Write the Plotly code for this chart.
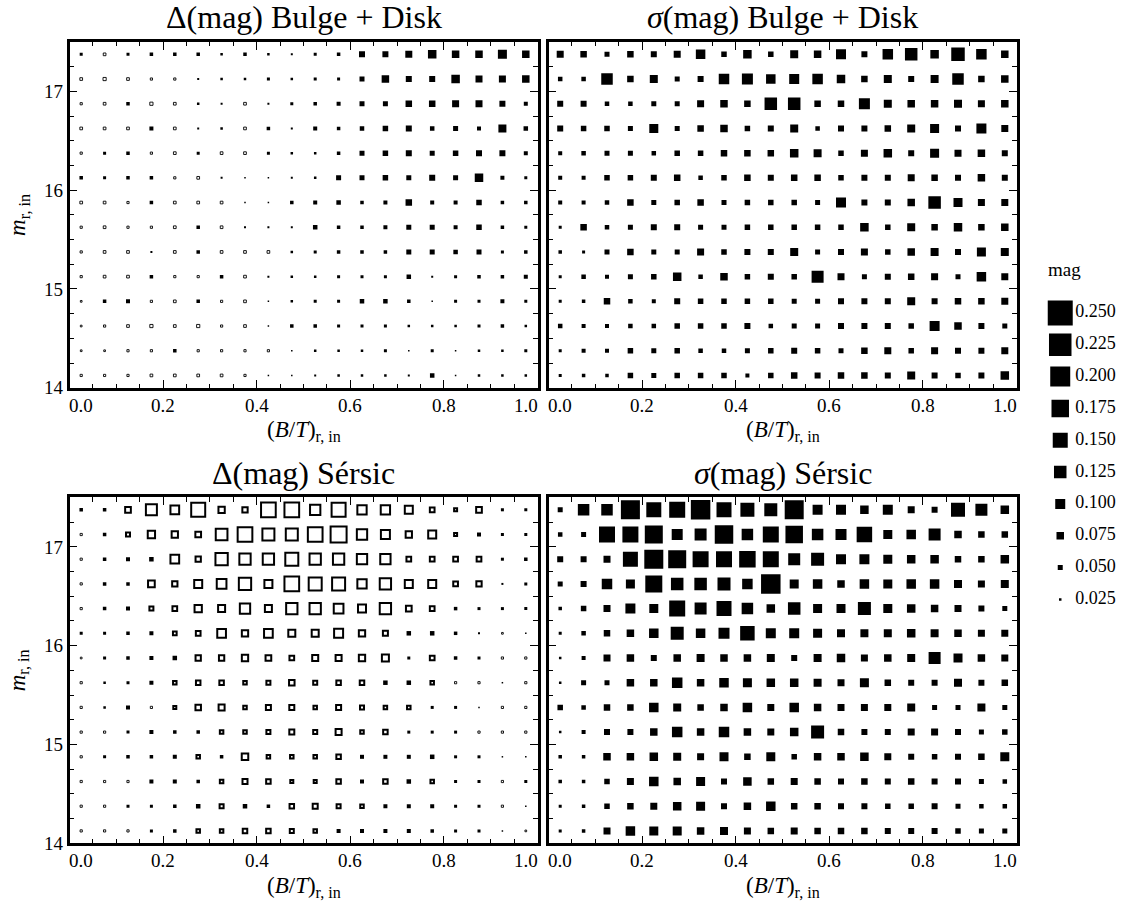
import plotly.graph_objects as go

# ---------------- data ----------------
bt_centers = [0.025, 0.075, 0.125, 0.175, 0.225, 0.275, 0.325, 0.375, 0.425, 0.475,
              0.525, 0.575, 0.625, 0.675, 0.725, 0.775, 0.825, 0.875, 0.925, 0.975]
# rows listed from top (bright end of the grid) to bottom
mag_centers = [17.375, 17.125, 16.875, 16.625, 16.375, 16.125, 15.875,
               15.625, 15.375, 15.125, 14.875, 14.625, 14.375, 14.125]

xtick_vals = [0.0, 0.2, 0.4, 0.6, 0.8, 1.0]
xtick_text = ["0.0", "0.2", "0.4", "0.6", "0.8", "1.0"]
ytick_vals = [14, 15, 16, 17]
legend_vals = [0.250, 0.225, 0.200, 0.175, 0.150, 0.125, 0.100, 0.075, 0.050, 0.025]

titles = ["\u0394(mag) Bulge + Disk", "<i>\u03c3</i>(mag) Bulge + Disk",
          "\u0394(mag) S\u00e9rsic", "<i>\u03c3</i>(mag) S\u00e9rsic"]
xtitle = "(<i>B</i>/<i>T</i>)<sub>r, in</sub>"
ytitle = "<i>m</i><sub>r, in</sub>"
legend_title = "mag"

delta_bd = [
    [0.03, -0.03, 0.03, 0.035, 0.035, 0.035, 0.025, 0.035, 0.025, 0.02, 0.03, 0.035, 0.06, 0.06, 0.07, 0.085, 0.075, 0.075, 0.09, 0.075],
    [-0.03, -0.035, -0.03, -0.025, -0.025, 0.02, 0.025, 0.025, 0.03, 0.025, 0.03, 0.03, 0.05, 0.075, 0.06, 0.06, 0.085, 0.07, 0.07, 0.075],
    [-0.025, -0.03, 0.035, -0.035, -0.03, 0.025, 0.02, -0.03, 0.02, 0.03, 0.035, 0.04, 0.05, 0.05, 0.065, 0.065, 0.07, 0.07, 0.06, 0.04],
    [-0.03, -0.03, -0.03, 0.04, -0.03, 0.02, 0.025, -0.03, 0.035, 0.02, 0.04, 0.035, 0.045, 0.055, 0.06, 0.045, 0.05, 0.04, 0.08, 0.045],
    [-0.025, 0.03, 0.035, -0.025, -0.03, 0.03, -0.03, -0.03, 0.03, 0.025, 0.025, 0.035, 0.05, 0.055, 0.06, 0.05, 0.055, 0.06, 0.06, 0.04],
    [0.035, 0.03, 0.035, 0.035, -0.025, -0.03, 0.02, 0.015, 0.015, 0.02, 0.025, 0.05, 0.05, 0.055, 0.05, 0.06, 0.05, 0.085, 0.04, 0.03],
    [-0.03, -0.03, -0.025, 0.035, -0.03, -0.03, -0.03, 0.015, 0.015, 0.035, 0.04, 0.045, 0.035, 0.04, 0.065, 0.04, 0.04, 0.055, 0.035, 0.035],
    [-0.025, -0.03, -0.025, -0.025, -0.03, 0.035, -0.03, 0.02, 0.02, 0.02, 0.045, 0.035, 0.035, 0.04, 0.05, 0.05, 0.04, 0.055, 0.035, 0.03],
    [-0.025, -0.03, -0.03, 0.02, -0.03, 0.035, -0.03, -0.03, -0.03, 0.025, 0.03, 0.035, 0.035, 0.035, 0.05, 0.05, 0.045, 0.05, 0.03, 0.035],
    [-0.025, -0.03, -0.03, 0.035, -0.025, -0.025, 0.035, -0.03, 0.02, 0.025, 0.025, 0.03, 0.03, 0.03, 0.045, 0.02, 0.03, 0.035, 0.035, 0.04],
    [-0.02, 0.035, 0.04, -0.025, -0.03, 0.035, -0.025, -0.03, 0.015, 0.025, 0.03, 0.03, 0.045, 0.045, 0.035, 0.015, 0.03, 0.03, 0.04, 0.03],
    [-0.02, -0.025, -0.03, -0.035, -0.03, -0.035, -0.025, -0.03, 0.015, 0.035, 0.035, 0.03, 0.03, 0.03, 0.025, 0.025, 0.025, 0.03, 0.035, 0.025],
    [-0.02, -0.02, -0.025, -0.025, 0.035, -0.025, -0.025, -0.025, -0.025, 0.015, 0.025, 0.025, 0.025, 0.03, 0.015, 0.03, 0.015, 0.025, 0.025, 0.03],
    [-0.025, -0.025, -0.025, -0.03, -0.03, -0.03, -0.03, -0.025, 0.015, 0.015, 0.02, 0.025, 0.025, 0.025, 0.02, 0.045, 0.015, 0.025, 0.025, 0.025],
]

sigma_bd = [
    [0.07, 0.065, 0.05, 0.065, 0.06, 0.07, 0.095, 0.055, 0.085, 0.055, 0.08, 0.075, 0.10, 0.06, 0.105, 0.125, 0.085, 0.135, 0.105, 0.075],
    [0.045, 0.045, 0.115, 0.065, 0.08, 0.05, 0.06, 0.105, 0.11, 0.095, 0.10, 0.105, 0.085, 0.065, 0.08, 0.06, 0.08, 0.115, 0.065, 0.075],
    [0.06, 0.06, 0.045, 0.045, 0.05, 0.05, 0.07, 0.075, 0.065, 0.125, 0.125, 0.065, 0.065, 0.11, 0.08, 0.075, 0.075, 0.08, 0.07, 0.075],
    [0.06, 0.055, 0.055, 0.05, 0.09, 0.05, 0.065, 0.075, 0.055, 0.06, 0.08, 0.045, 0.06, 0.06, 0.065, 0.08, 0.09, 0.06, 0.10, 0.07],
    [0.04, 0.045, 0.05, 0.05, 0.045, 0.055, 0.055, 0.065, 0.065, 0.065, 0.085, 0.08, 0.055, 0.07, 0.085, 0.06, 0.09, 0.07, 0.075, 0.06],
    [0.04, 0.04, 0.055, 0.055, 0.06, 0.065, 0.045, 0.055, 0.065, 0.06, 0.065, 0.065, 0.055, 0.06, 0.06, 0.07, 0.065, 0.06, 0.075, 0.06],
    [0.04, 0.04, 0.045, 0.065, 0.05, 0.055, 0.065, 0.05, 0.055, 0.055, 0.055, 0.05, 0.10, 0.06, 0.06, 0.075, 0.125, 0.09, 0.07, 0.07],
    [0.03, 0.065, 0.045, 0.05, 0.06, 0.06, 0.05, 0.05, 0.055, 0.055, 0.055, 0.055, 0.055, 0.085, 0.055, 0.08, 0.065, 0.085, 0.065, 0.075],
    [0.035, 0.03, 0.05, 0.065, 0.05, 0.05, 0.07, 0.055, 0.06, 0.06, 0.08, 0.05, 0.06, 0.07, 0.055, 0.075, 0.08, 0.06, 0.09, 0.08],
    [0.03, 0.045, 0.04, 0.05, 0.055, 0.085, 0.045, 0.075, 0.055, 0.06, 0.055, 0.12, 0.07, 0.05, 0.06, 0.065, 0.07, 0.05, 0.095, 0.07],
    [0.03, 0.035, 0.065, 0.045, 0.04, 0.06, 0.055, 0.055, 0.055, 0.055, 0.05, 0.05, 0.06, 0.06, 0.06, 0.08, 0.06, 0.065, 0.065, 0.07],
    [0.045, 0.04, 0.04, 0.045, 0.045, 0.055, 0.055, 0.055, 0.06, 0.045, 0.05, 0.05, 0.06, 0.06, 0.06, 0.055, 0.10, 0.075, 0.06, 0.05],
    [0.03, 0.04, 0.04, 0.055, 0.05, 0.055, 0.045, 0.045, 0.05, 0.055, 0.06, 0.055, 0.05, 0.065, 0.07, 0.055, 0.07, 0.06, 0.06, 0.07],
    [0.03, 0.035, 0.035, 0.055, 0.05, 0.055, 0.055, 0.055, 0.04, 0.055, 0.065, 0.06, 0.065, 0.065, 0.06, 0.08, 0.06, 0.055, 0.06, 0.085],
]

delta_sersic = [
    [0.035, 0.035, -0.077, -0.13, -0.107, -0.16, -0.083, -0.073, -0.167, -0.167, -0.123, -0.16, -0.113, -0.113, -0.10, -0.067, -0.05, -0.077, 0.03, 0.03],
    [-0.025, 0.035, -0.06, -0.093, -0.083, -0.077, -0.137, -0.167, -0.14, -0.14, -0.167, -0.18, -0.123, -0.11, -0.083, -0.10, -0.05, 0.04, 0.03, 0.03],
    [-0.025, 0.035, 0.04, 0.045, -0.107, -0.073, -0.143, -0.133, -0.133, -0.15, -0.133, -0.133, -0.123, -0.123, -0.067, -0.067, -0.067, -0.067, 0.03, 0.035],
    [-0.025, 0.035, 0.035, -0.087, -0.073, -0.10, -0.117, -0.143, -0.10, -0.167, -0.15, -0.15, -0.113, -0.133, -0.10, -0.10, -0.067, -0.073, 0.02, 0.03],
    [-0.025, 0.035, 0.04, -0.06, -0.067, -0.093, -0.09, -0.123, -0.09, -0.133, -0.133, -0.117, -0.10, -0.133, -0.077, -0.067, 0.035, 0.03, 0.03, 0.03],
    [0.03, 0.03, 0.035, 0.04, -0.057, -0.067, -0.107, -0.083, -0.107, -0.09, -0.09, -0.11, -0.083, -0.07, 0.045, 0.045, 0.035, 0.02, -0.02, 0.015],
    [-0.02, 0.03, 0.035, 0.04, 0.045, -0.073, -0.073, -0.083, -0.077, -0.067, -0.08, -0.08, -0.083, -0.09, 0.03, -0.067, 0.035, 0.03, -0.025, -0.025],
    [-0.025, 0.025, 0.03, 0.04, -0.055, -0.065, -0.065, -0.055, -0.06, -0.075, -0.06, -0.065, -0.065, 0.045, 0.045, -0.055, -0.025, -0.025, 0.015, -0.025],
    [-0.025, 0.025, 0.04, -0.025, -0.05, -0.075, -0.08, -0.055, -0.07, -0.07, -0.055, -0.07, -0.06, -0.055, -0.055, 0.03, 0.03, 0.015, -0.025, -0.025],
    [-0.025, -0.025, 0.03, 0.04, 0.035, 0.035, -0.055, -0.055, -0.06, -0.07, -0.06, -0.08, -0.055, -0.065, 0.03, 0.03, 0.03, -0.025, -0.025, -0.025],
    [-0.025, 0.03, 0.035, 0.035, 0.04, -0.055, 0.035, -0.085, -0.055, -0.055, -0.055, -0.065, 0.04, 0.04, 0.04, 0.045, 0.03, 0.03, 0.015, 0.015],
    [-0.025, -0.025, -0.025, 0.04, 0.04, 0.035, -0.055, -0.07, -0.065, -0.05, -0.05, -0.065, 0.04, -0.065, 0.045, -0.055, 0.03, 0.03, -0.025, 0.03],
    [-0.025, -0.025, 0.03, 0.03, 0.035, 0.045, -0.06, 0.045, 0.035, -0.065, -0.07, -0.06, -0.055, 0.04, 0.04, 0.04, 0.03, 0.03, -0.025, 0.015],
    [-0.025, -0.025, -0.025, 0.03, 0.035, -0.055, -0.055, -0.065, -0.065, -0.06, -0.055, 0.04, 0.04, 0.04, 0.04, 0.035, 0.03, 0.03, 0.015, -0.02],
]

sigma_sersic = [
    [0.05, 0.115, 0.115, 0.19, 0.15, 0.16, 0.195, 0.15, 0.14, 0.13, 0.19, 0.10, 0.10, 0.085, 0.10, 0.07, 0.06, 0.14, 0.12, 0.085],
    [0.045, 0.05, 0.16, 0.16, 0.18, 0.11, 0.12, 0.185, 0.115, 0.16, 0.175, 0.115, 0.11, 0.155, 0.09, 0.095, 0.12, 0.075, 0.065, 0.065],
    [0.06, 0.06, 0.07, 0.15, 0.19, 0.18, 0.16, 0.16, 0.165, 0.16, 0.12, 0.13, 0.10, 0.10, 0.09, 0.085, 0.085, 0.065, 0.065, 0.085],
    [0.05, 0.06, 0.105, 0.09, 0.17, 0.125, 0.125, 0.13, 0.105, 0.195, 0.09, 0.095, 0.075, 0.095, 0.09, 0.095, 0.095, 0.08, 0.07, 0.08],
    [0.035, 0.055, 0.07, 0.10, 0.09, 0.16, 0.12, 0.15, 0.115, 0.085, 0.125, 0.09, 0.09, 0.13, 0.09, 0.085, 0.075, 0.07, 0.06, 0.05],
    [0.03, 0.045, 0.065, 0.075, 0.095, 0.13, 0.095, 0.11, 0.145, 0.10, 0.10, 0.09, 0.08, 0.08, 0.08, 0.085, 0.08, 0.075, 0.07, 0.07],
    [0.025, 0.04, 0.07, 0.075, 0.06, 0.075, 0.08, 0.075, 0.075, 0.08, 0.06, 0.08, 0.085, 0.07, 0.075, 0.08, 0.12, 0.09, 0.075, 0.07],
    [0.025, 0.05, 0.05, 0.075, 0.075, 0.105, 0.075, 0.095, 0.09, 0.085, 0.085, 0.08, 0.07, 0.09, 0.065, 0.06, 0.06, 0.08, 0.06, 0.065],
    [0.055, 0.045, 0.065, 0.065, 0.095, 0.08, 0.065, 0.075, 0.095, 0.07, 0.095, 0.075, 0.07, 0.07, 0.07, 0.08, 0.05, 0.05, 0.08, 0.05],
    [0.025, 0.04, 0.06, 0.06, 0.075, 0.105, 0.075, 0.105, 0.075, 0.07, 0.085, 0.13, 0.065, 0.06, 0.06, 0.07, 0.07, 0.06, 0.05, 0.055],
    [0.035, 0.035, 0.075, 0.075, 0.085, 0.08, 0.07, 0.09, 0.065, 0.09, 0.055, 0.075, 0.075, 0.085, 0.07, 0.06, 0.055, 0.06, 0.065, 0.09],
    [0.035, 0.035, 0.055, 0.07, 0.095, 0.075, 0.09, 0.06, 0.085, 0.065, 0.07, 0.065, 0.06, 0.065, 0.06, 0.065, 0.06, 0.06, 0.05, 0.045],
    [0.03, 0.035, 0.055, 0.065, 0.07, 0.085, 0.09, 0.06, 0.075, 0.095, 0.065, 0.065, 0.06, 0.06, 0.055, 0.055, 0.06, 0.05, 0.045, 0.045],
    [0.03, 0.035, 0.07, 0.095, 0.09, 0.09, 0.075, 0.08, 0.07, 0.065, 0.07, 0.065, 0.065, 0.065, 0.06, 0.06, 0.06, 0.055, 0.05, 0.05],
]

# ---------------- layout helpers ----------------
W, H = 1128, 917
FONT = "'Liberation Serif', 'DejaVu Serif', 'Times New Roman', Times, serif"
SCALE = 100.0  # marker side in px per mag


def fx(p):
    return p / W


def fy(p):
    return 1 - p / H


panels = [
    dict(vals=delta_bd, xd=(69.5, 537.5), yd=(42.5, 392.5), ylab=True),
    dict(vals=sigma_bd, xd=(548.5, 1016.5), yd=(42.5, 392.5), ylab=False),
    dict(vals=delta_sersic, xd=(69.5, 537.5), yd=(503.5, 853.5), ylab=True),
    dict(vals=sigma_sersic, xd=(548.5, 1016.5), yd=(503.5, 853.5), ylab=False),
]

fig = go.Figure()
annotations = []
layout_axes = {}

for i, p in enumerate(panels):
    n = i + 1
    xs, ys, sizes, symbols, lws = [], [], [], [], []
    for r, row in enumerate(p["vals"]):
        for c, v in enumerate(row):
            xs.append(bt_centers[c])
            ys.append(mag_centers[r])
            if v >= 0:
                symbols.append("square")
                sizes.append(v * SCALE)
                lws.append(0)
            elif -v >= 0.045:
                symbols.append("square-open")
                sizes.append(-v * SCALE - 2.0)
                lws.append(2.0)
            else:
                symbols.append("square-open")
                sizes.append(max(-v * SCALE - 0.3, 1.5))
                lws.append(0.9)
    fig.add_trace(go.Scatter(
        x=xs, y=ys, mode="markers",
        marker=dict(symbol=symbols, size=sizes, color="black", opacity=1,
                    line=dict(color="black", width=lws)),
        xaxis="x%d" % n if n > 1 else "x",
        yaxis="y%d" % n if n > 1 else "y",
        showlegend=False, hoverinfo="skip"))

    xk = "xaxis%d" % n if n > 1 else "xaxis"
    yk = "yaxis%d" % n if n > 1 else "yaxis"
    layout_axes[xk] = dict(
        domain=[fx(p["xd"][0]), fx(p["xd"][1])],
        anchor="y%d" % n if n > 1 else "y",
        range=[0, 1], showgrid=False, zeroline=False,
        showline=True, linewidth=2.5, linecolor="black", mirror="ticks",
        ticks="inside", tick0=0, dtick=0.2, ticklen=8, tickwidth=1.3, tickcolor="black",
        minor=dict(ticks="inside", dtick=0.05, tick0=0, ticklen=4.5, tickwidth=1.1, tickcolor="black"),
        showticklabels=False)
    layout_axes[yk] = dict(
        domain=[fy(p["yd"][1]), fy(p["yd"][0])],
        anchor="x%d" % n if n > 1 else "x",
        range=[14, 17.5], showgrid=False, zeroline=False,
        showline=True, linewidth=2.5, linecolor="black", mirror="ticks",
        ticks="inside", tickmode="array", tickvals=ytick_vals,
        ticktext=[str(v) for v in ytick_vals],
        ticklen=8, tickwidth=1.3, tickcolor="black",
        minor=dict(ticks="inside", dtick=0.25, tick0=14, ticklen=4.5, tickwidth=1.1, tickcolor="black"),
        showticklabels=p["ylab"], tickfont=dict(family=FONT, size=19, color="black"))

    # x tick labels (edge labels nudged inside the frame)
    for v, t in zip(xtick_vals, xtick_text):
        annotations.append(dict(
            x=min(max(v, 0.025), 0.975), xref="x%d" % n if n > 1 else "x",
            y=fy(p["yd"][1] + 5), yref="paper", yanchor="top", xanchor="center",
            text=t, showarrow=False, font=dict(family=FONT, size=19, color="black")))

    xc = (p["xd"][0] + p["xd"][1]) / 2
    # panel title
    annotations.append(dict(
        x=fx(xc), y=fy(p["yd"][0] - 25), xref="paper", yref="paper",
        xanchor="center", yanchor="middle", text=titles[i], showarrow=False,
        font=dict(family=FONT, size=32, color="black")))
    # x axis title
    annotations.append(dict(
        x=fx(xc), y=fy(p["yd"][1] + 44), xref="paper", yref="paper",
        xanchor="center", yanchor="middle", text=xtitle, showarrow=False,
        font=dict(family=FONT, size=23, color="black")))
    if p["ylab"]:
        yc = (p["yd"][0] + p["yd"][1]) / 2
        annotations.append(dict(
            x=fx(19), y=fy(yc), xref="paper", yref="paper",
            xanchor="center", yanchor="middle", text=ytitle, textangle=-90,
            showarrow=False, font=dict(family=FONT, size=23, color="black")))

# ---------------- size legend ----------------
leg_idx = list(range(len(legend_vals)))
fig.add_trace(go.Scatter(
    x=[0.23] * len(legend_vals), y=leg_idx, mode="markers",
    marker=dict(symbol="square", size=[v * SCALE for v in legend_vals], color="black",
                opacity=1, line=dict(width=0)),
    xaxis="x5", yaxis="y5", showlegend=False, hoverinfo="skip"))
fig.add_trace(go.Scatter(
    x=[0.40] * len(legend_vals), y=leg_idx, mode="text",
    text=["%.3f" % v for v in legend_vals], textposition="middle right",
    textfont=dict(family=FONT, size=18, color="black"),
    xaxis="x5", yaxis="y5", showlegend=False, hoverinfo="skip"))
layout_axes["xaxis5"] = dict(domain=[fx(1040), fx(1128)], range=[0, 1], anchor="y5",
                             visible=False)
layout_axes["yaxis5"] = dict(domain=[fy(638.9), fy(284.5)], range=[10, -1], anchor="x5",
                             visible=False)
annotations.append(dict(
    x=fx(1064), y=fy(273), xref="paper", yref="paper", xanchor="center", yanchor="middle",
    text=legend_title, showarrow=False, font=dict(family=FONT, size=19, color="black")))

fig.update_layout(
    width=W, height=H, margin=dict(l=0, r=0, t=0, b=0),
    paper_bgcolor="white", plot_bgcolor="white",
    font=dict(family=FONT, color="black"),
    annotations=annotations, **layout_axes)

fig.write_html("out.html")
